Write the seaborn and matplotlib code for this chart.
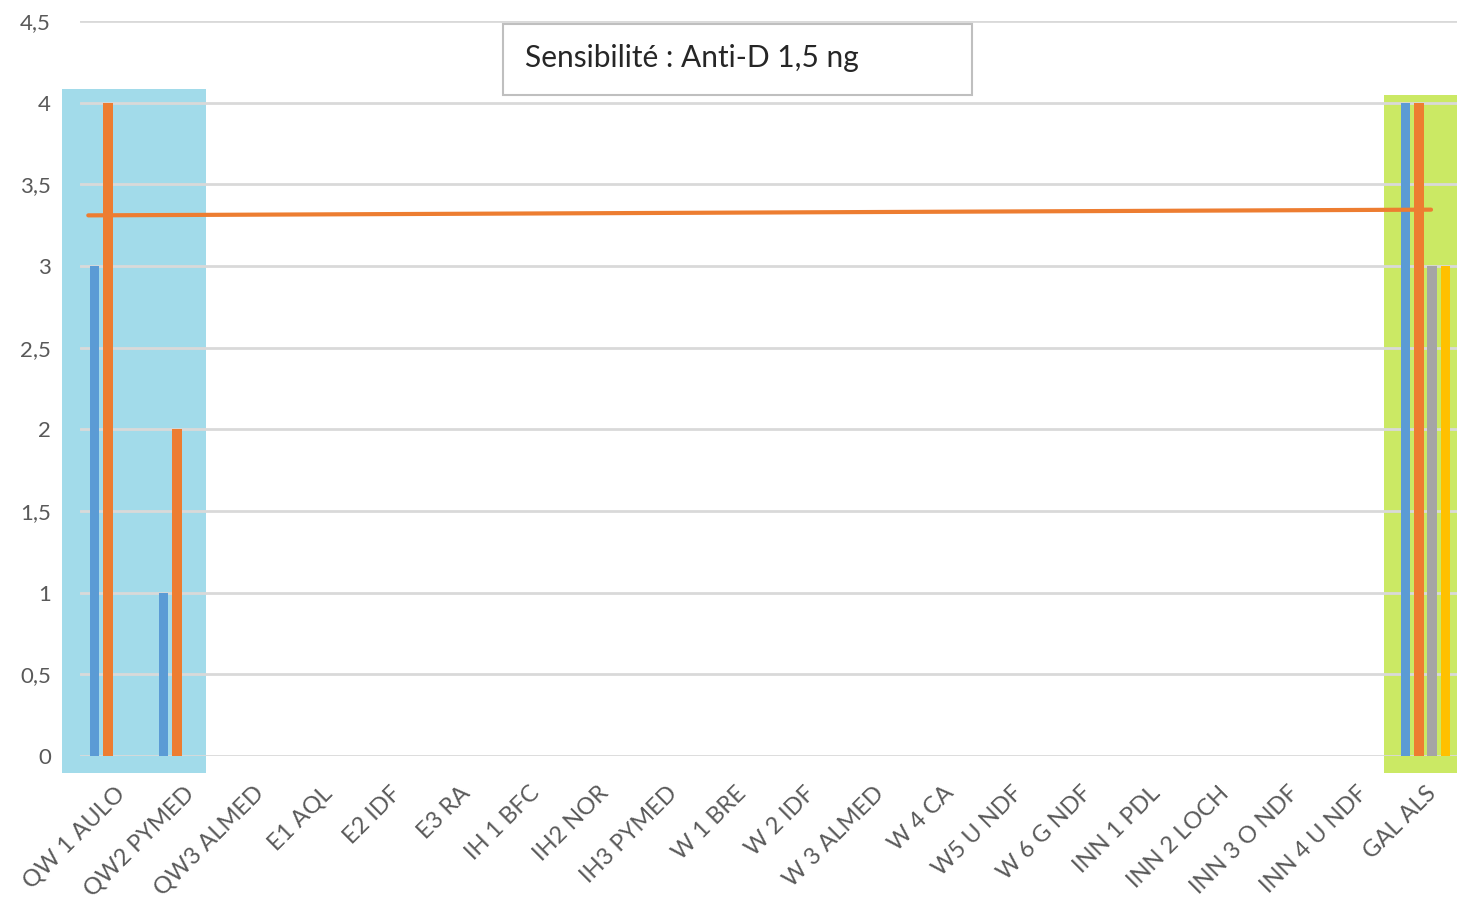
import pandas as pd
import matplotlib
matplotlib.use('Agg')
import matplotlib.pyplot as plt
from matplotlib.patches import Rectangle
import seaborn as sns

# Categories (x axis)
categories = ['QW 1 AULO', 'QW2 PYMED', 'QW3 ALMED', 'E1 AQL', 'E2 IDF', 'E3 RA',
              'IH 1 BFC', 'IH2 NOR', 'IH3 PYMED', 'W 1 BRE', 'W 2 IDF', 'W 3 ALMED',
              'W 4 CA', 'W5 U NDF', 'W 6 G NDF', 'INN 1 PDL', 'INN 2 LOCH',
              'INN 3 O NDF', 'INN 4 U NDF', 'GAL ALS']

# Series values (0 = no bar)
serie1 = [3, 1, 0, 0, 0, 0, 0, 0, 0, 0, 0, 0, 0, 0, 0, 0, 0, 0, 0, 4]
serie2 = [4, 2, 0, 0, 0, 0, 0, 0, 0, 0, 0, 0, 0, 0, 0, 0, 0, 0, 0, 4]
serie3 = [0, 0, 0, 0, 0, 0, 0, 0, 0, 0, 0, 0, 0, 0, 0, 0, 0, 0, 0, 3]
serie4 = [0, 0, 0, 0, 0, 0, 0, 0, 0, 0, 0, 0, 0, 0, 0, 0, 0, 0, 0, 3]
series_names = ['Série 1', 'Série 2', 'Série 3', 'Série 4']
colors = ['#5B9BD5', '#ED7D31', '#A5A5A5', '#FFC000']

# Reference line (category position, value)
line_x = [-0.38, 19.08]
line_y = [3.31, 3.345]

yticks = [0, 0.5, 1, 1.5, 2, 2.5, 3, 3.5, 4, 4.5]
ytick_labels = ['0', '0,5', '1', '1,5', '2', '2,5', '3', '3,5', '4', '4,5']

rows = []
for name, vals in zip(series_names, [serie1, serie2, serie3, serie4]):
    for c, v in zip(categories, vals):
        rows.append({'cat': c, 'val': v, 'serie': name})
df = pd.DataFrame(rows)

sns.set_style('white')
plt.rcParams['font.family'] = ['Lato', 'DejaVu Sans']

W, H = 1457, 898
fig = plt.figure(figsize=(W / 100, H / 100), dpi=100)
ax = fig.add_axes([80 / W, 142 / H, (1460 - 80) / W, (877 - 142) / H])
ax.patch.set_alpha(0)

# highlight zones (figure pixels)
def fig_rect(x0, y0, x1, y1, **kw):
    r = Rectangle((x0 / W, 1 - y1 / H), (x1 - x0) / W, (y1 - y0) / H,
                  transform=fig.transFigure, **kw)
    fig.add_artist(r)

fig_rect(62, 89, 206, 773, facecolor='#A2DBEA', edgecolor='none', zorder=-1)
fig_rect(1384, 95, 1460, 773, facecolor='#CBE964', edgecolor='none', zorder=-1)

sns.barplot(data=df, x='cat', y='val', hue='serie', order=categories,
            hue_order=series_names, palette=colors, width=0.76, gap=0.3,
            saturation=1, errorbar=None, linewidth=0, legend=False, ax=ax,
            zorder=3)

sns.lineplot(x=line_x, y=line_y, color='#ED7D31', linewidth=3, ax=ax, zorder=4)

ax.set_xlim(-0.5, len(categories) - 0.5)
ax.set_ylim(0, 4.5)
ax.set_yticks(yticks)
ax.set_yticklabels(ytick_labels)
ax.yaxis.grid(True, color='#D9D9D9', linewidth=2, zorder=1)
ax.set_axisbelow(True)
for s in ax.spines.values():
    s.set_visible(False)
ax.set_xlabel('')
ax.set_ylabel('')
ax.tick_params(axis='y', length=0, pad=21, labelsize=16, labelcolor='#595959')
ax.tick_params(axis='x', length=0, pad=19, labelsize=17, labelcolor='#595959')
plt.setp(ax.get_xticklabels(), rotation=45, ha='right', va='top',
         rotation_mode='anchor')

# title box
fig_rect(503, 24, 972, 95, facecolor='white', edgecolor='#BFBFBF',
         linewidth=1.5, zorder=5)
fig.text(525 / W, 1 - 58 / H, 'Sensibilité : Anti-D 1,5 ng', fontsize=21.5,
         color='#262626', ha='left', va='center', zorder=6)

fig.savefig('out.png', dpi=100)
